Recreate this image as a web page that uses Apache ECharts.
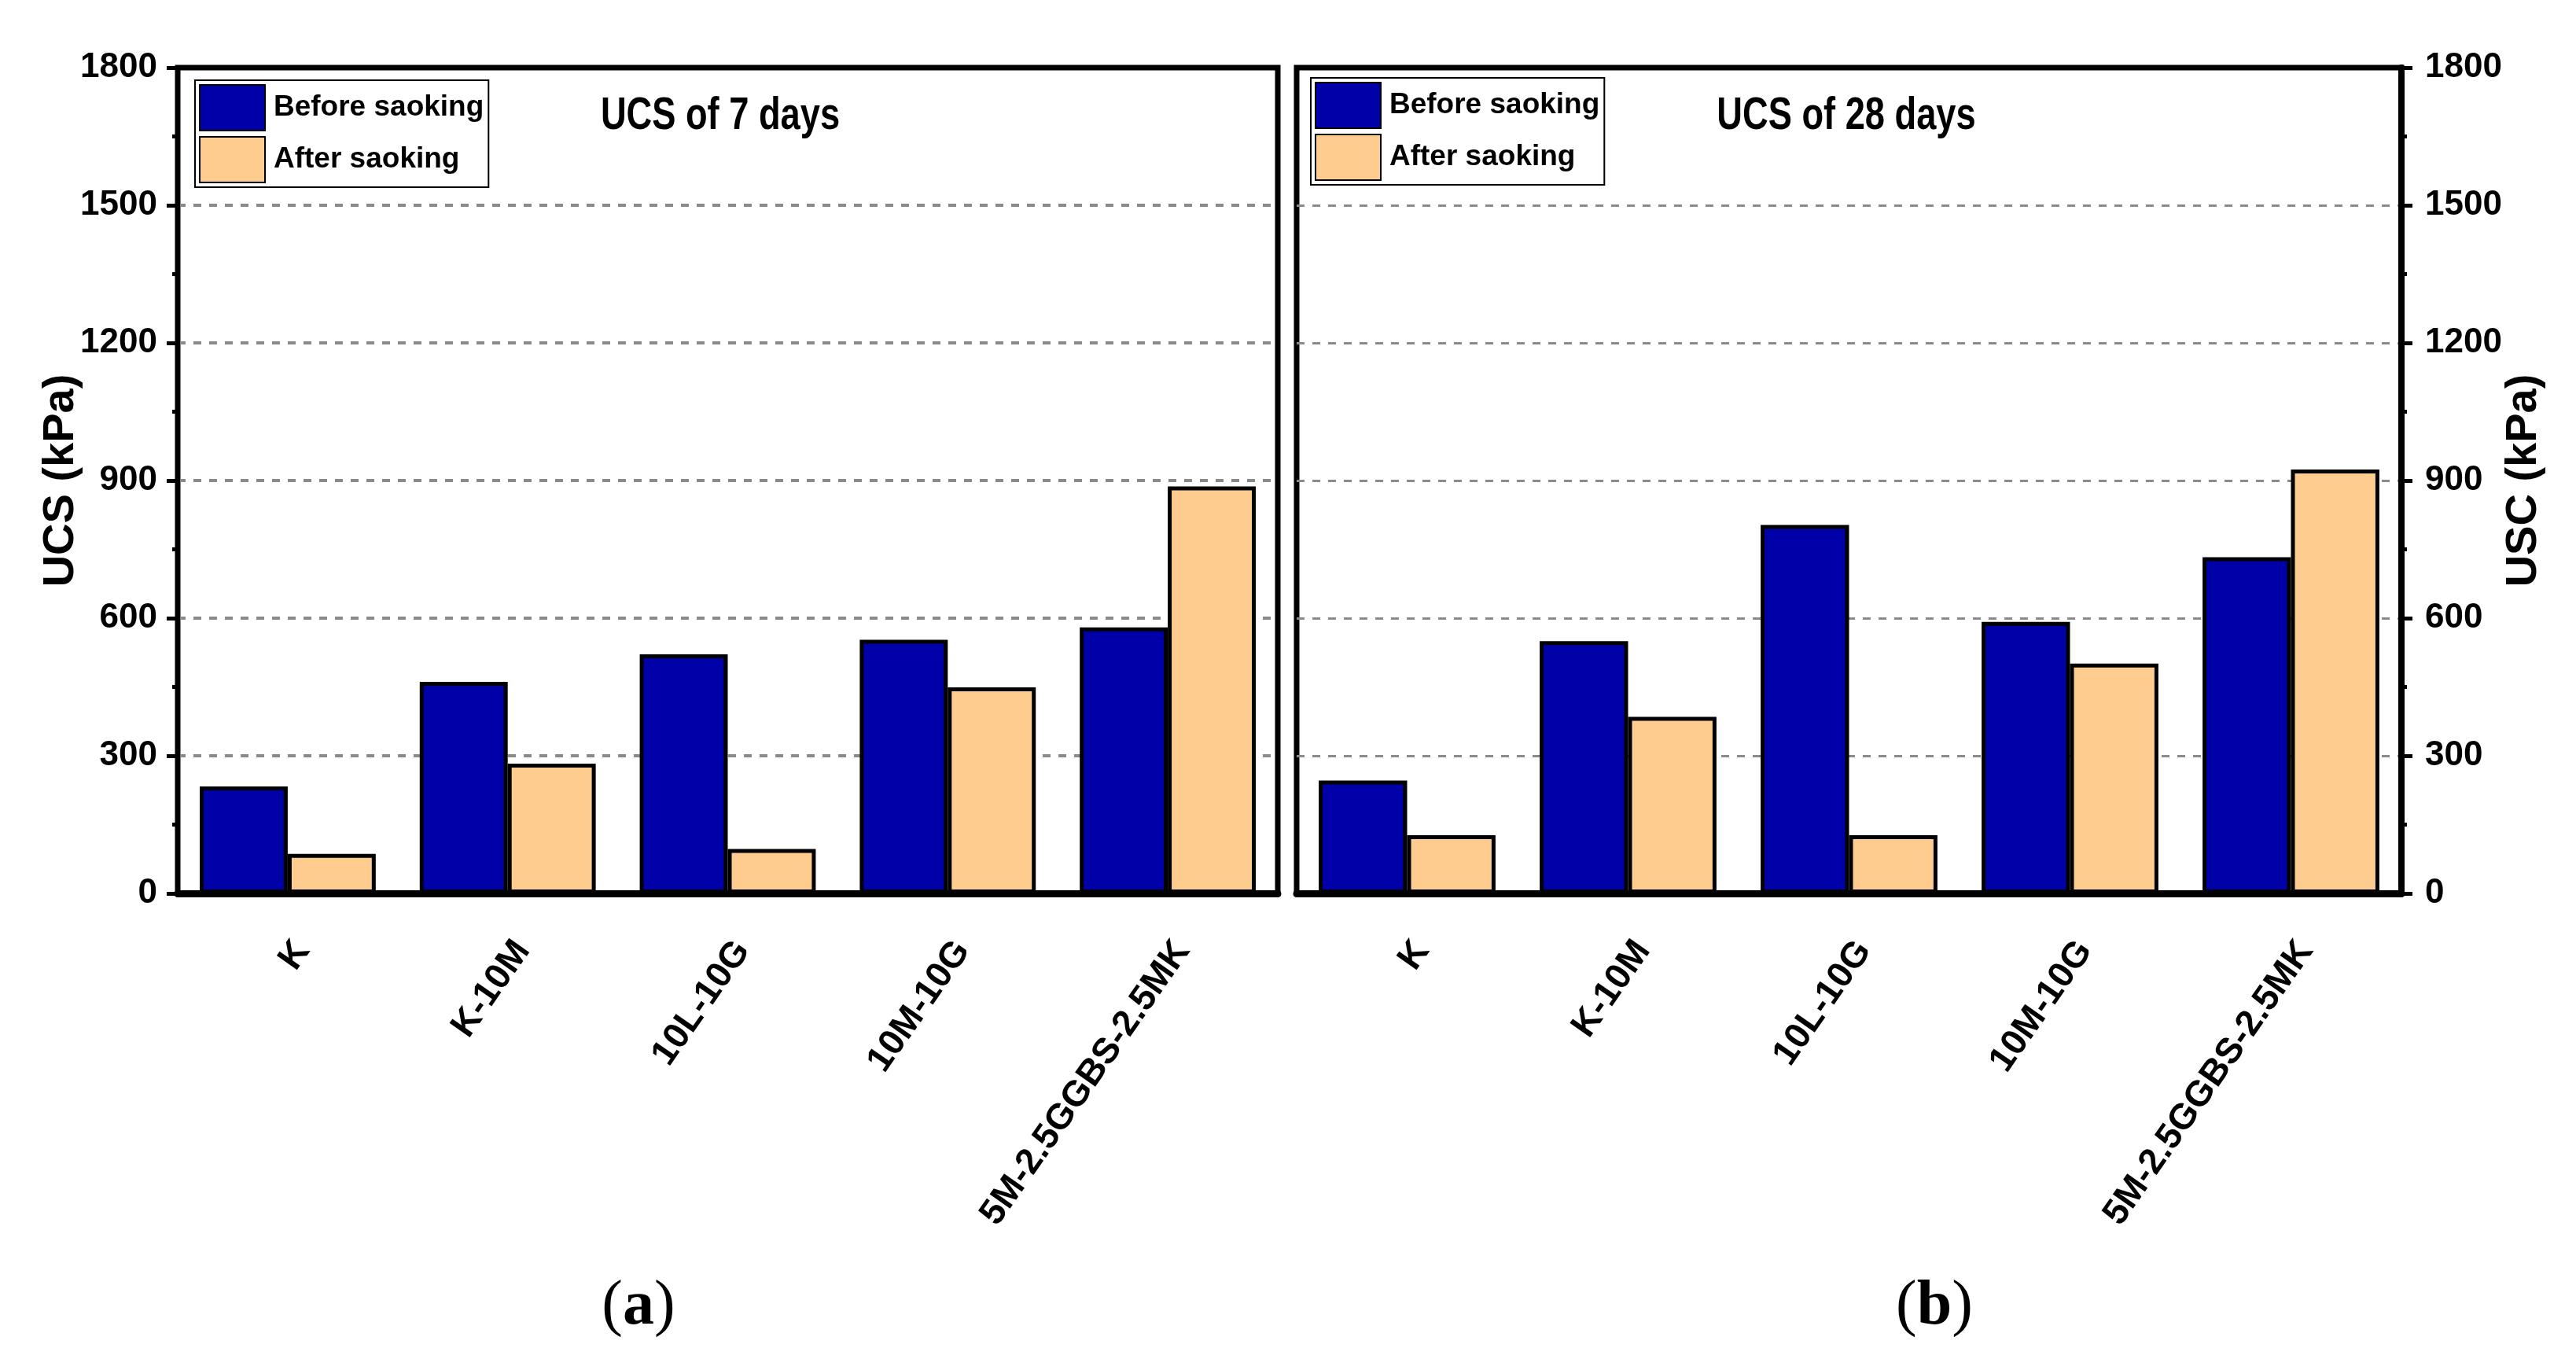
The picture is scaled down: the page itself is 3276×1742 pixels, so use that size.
<!DOCTYPE html>
<html><head><meta charset="utf-8">
<script src="https://cdn.jsdelivr.net/npm/echarts@6/dist/echarts.min.js"></script>
<style>html,body{margin:0;padding:0;background:#fff}#c{width:3276px;height:1742px}</style>
</head><body><div id="c"></div>
<script>
// ---- data ----
const categories = ['K', 'K-10M', '10L-10G', '10M-10G', '5M-2.5GGBS-2.5MK'];
const before7  = [233, 461, 521, 553, 580];
const after7   = [86, 283, 97, 449, 887];
const before28 = [246, 550, 803, 592, 733];
const after28  = [127, 385, 127, 501, 924];
const seriesNames = ['Before saoking', 'After saoking'];
const panelTitles = ['UCS of 7 days', 'UCS of 28 days'];
const panelTags = ['a', 'b'];
const axisNames = ['UCS (kPa)', 'USC (kPa)'];
const yMin = 0, yMax = 1800, yStep = 300;

// ---- styling ----
const SANS = "'Liberation Sans',Arial,sans-serif";
const SERIF = "'Liberation Serif','Times New Roman',serif";
const BLUE = '#0000A8', PEACH = '#FFCC90';

const grids = [
  {left: 226, top: 86, width: 1399, height: 1050},
  {left: 1649, top: 86, width: 1405, height: 1050}
];

const chart = echarts.init(document.getElementById('c'));

function xAxis(i) {
  return {
    gridIndex: i, type: 'category', data: categories,
    axisLine: {lineStyle: {color: '#000', width: 9}},
    axisTick: {alignWithLabel: true, length: 20, lineStyle: {color: '#000', width: 4}},
    axisLabel: {interval: 0, rotate: 55, margin: 52, fontSize: 46, fontWeight: 'bold',
                verticalAlign: 'top', fontFamily: SANS, color: '#000'},
    splitLine: {show: false}
  };
}
function yAxis(i) {
  const right = i === 1;
  return {
    gridIndex: i, type: 'value', min: yMin, max: yMax, interval: yStep,
    position: right ? 'right' : 'left',
    name: axisNames[i], nameLocation: 'middle', nameRotate: 90,
    nameMoveOverlap: false, nameGap: right ? 128 : 120,
    nameTextStyle: {fontSize: 56, fontWeight: 'bold', fontFamily: SANS, color: '#000'},
    axisLine: {show: true, lineStyle: {color: '#000', width: right ? 8 : 6}},
    axisTick: {show: true, length: 14, lineStyle: {color: '#000', width: 5}},
    minorTick: {show: true, splitNumber: 2, length: 7, lineStyle: {color: '#000', width: 5}},
    axisLabel: {fontSize: 44, fontWeight: 'bold', fontFamily: SANS, color: '#000',
                margin: right ? 30 : 26, formatter: v => String(v)},
    splitLine: {show: true, showMinLine: false, showMaxLine: false,
                lineStyle: {type: [10, 10], color: '#8a8a8a', width: right ? 3 : 4}}
  };
}
function bar(name, data, color, i) {
  return {
    type: 'bar', name: name, data: data, xAxisIndex: i, yAxisIndex: i,
    barGap: '0%', barCategoryGap: '20%',
    itemStyle: {color: color, borderColor: '#000', borderWidth: 5},
    emphasis: {disabled: true}
  };
}
function legend(left, top) {
  return {
    data: seriesNames, orient: 'vertical', left: left, top: top,
    icon: 'rect', itemWidth: 83, itemHeight: 58, itemGap: 6,
    padding: [5, 6, 5, 5], borderColor: '#000', borderWidth: 2,
    backgroundColor: '#fff',
    textStyle: {fontSize: 37, fontFamily: SANS, fontWeight: 'bold', color: '#000', padding: [0, 0, 0, 6]},
    selectedMode: false
  };
}
function titleText(x, txt) {
  return {type: 'text', x: x, y: 148, scaleX: 0.78,
    style: {text: txt, font: "bold 58px " + SANS, fill: '#000',
            textAlign: 'center', textVerticalAlign: 'middle'}};
}
function tagText(x, tag) {
  return {type: 'text', x: x, y: 1662, style: {text: '{p|(}{b|' + tag + '}{p|)}',
    textAlign: 'center', textVerticalAlign: 'middle',
    rich: {p: {fontSize: 80, fontFamily: SERIF, color: '#000'},
           b: {fontSize: 80, fontFamily: SERIF, fontWeight: 'bold', color: '#000'}}}};
}

const option = {
  animation: false,
  backgroundColor: '#fff',
  grid: grids.map(g => Object.assign({show: true, borderColor: '#000', borderWidth: 7,
                                      backgroundColor: 'transparent'}, g)),
  xAxis: [xAxis(0), xAxis(1)],
  yAxis: [yAxis(0), yAxis(1)],
  legend: [legend(248, 102), legend(1667, 99)],
  series: [
    bar(seriesNames[0], before7, BLUE, 0),
    bar(seriesNames[1], after7, PEACH, 0),
    bar(seriesNames[0], before28, BLUE, 1),
    bar(seriesNames[1], after28, PEACH, 1)
  ],
  graphic: [
    titleText(916, panelTitles[0]),
    titleText(2348, panelTitles[1]),
    tagText(812, panelTags[0]),
    tagText(2460, panelTags[1])
  ]
};
chart.setOption(option);
</script></body></html>
